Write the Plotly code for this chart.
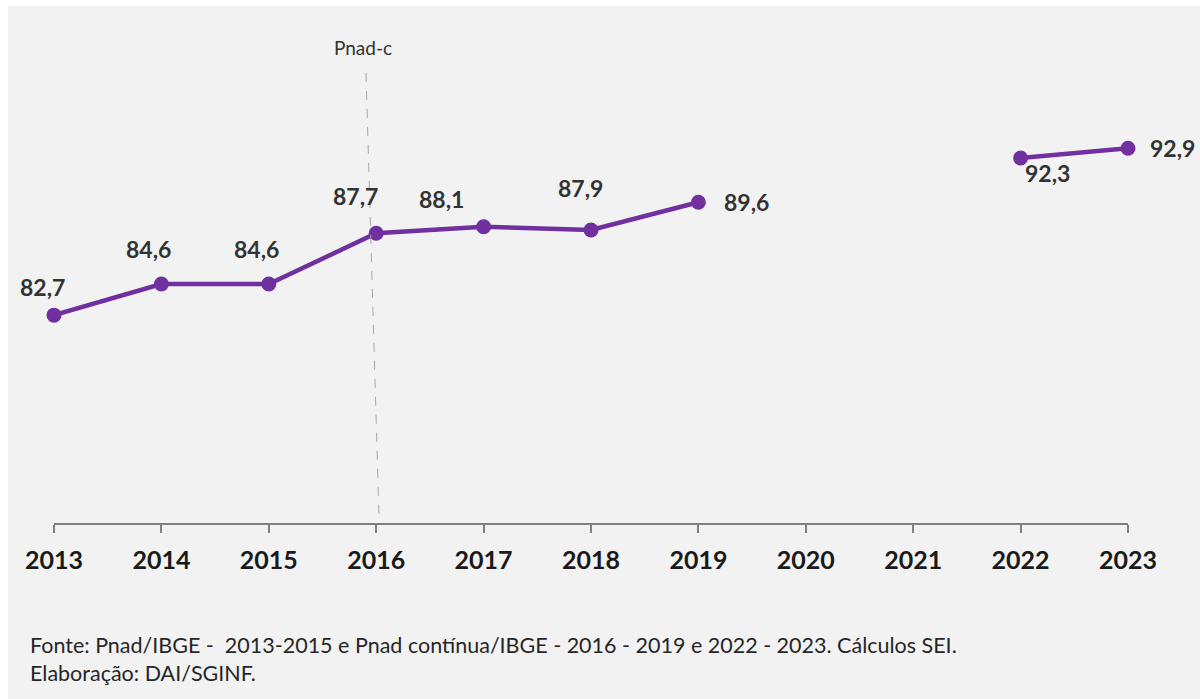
import plotly.graph_objects as go

# Série anual (2020 e 2021 sem dados)
anos = [2013, 2014, 2015, 2016, 2017, 2018, 2019, 2020, 2021, 2022, 2023]
valores = [82.7, 84.6, 84.6, 87.7, 88.1, 87.9, 89.6, None, None, 92.3, 92.9]
rotulos_eixo = [str(a) for a in anos]

fonte = "Fonte: Pnad/IBGE -  2013-2015 e Pnad contínua/IBGE - 2016 - 2019 e 2022 - 2023. Cálculos SEI."
elaboracao = "Elaboração: DAI/SGINF."

# deslocamento (px) de cada rótulo de valor em relação ao ponto
desloc = [(-12, 28), (-13, 35), (-12, 35), (-21, 37), (-42, 28), (-11, 42),
          (48, 0), None, None, (27, -15), (44, 0)]

ROXO = "#7030a0"
FONTE = "Lato"

# geometria da área de plotagem (px)
W, H = 1200, 699
ML, MR, MT, MB = 54, 72, 32, 176
PW, PH = W - ML - MR, H - MT - MB


def px_x(p):
    return (p - ML) / PW


def px_y(p):
    return (H - MB - p) / PH


fig = go.Figure()

fig.add_trace(go.Scatter(
    x=anos, y=valores, mode="lines+markers",
    line=dict(color=ROXO, width=4.5),
    marker=dict(color=ROXO, size=15),
    connectgaps=False, cliponaxis=False, hoverinfo="skip", showlegend=False,
))

anotacoes = []
for a, v, d in zip(anos, valores, desloc):
    if v is None:
        continue
    anotacoes.append(dict(
        x=a, y=v, xref="x", yref="y", text=f"{v:.1f}".replace(".", ","),
        showarrow=False, xshift=d[0], yshift=d[1],
        xanchor="center", yanchor="middle",
        font=dict(family=FONTE, size=23, color="#333333", weight="bold"),
    ))

anotacoes.append(dict(
    x=px_x(363), y=px_y(47), xref="paper", yref="paper", text="Pnad-c",
    xanchor="center", yanchor="middle", showarrow=False,
    font=dict(family=FONTE, size=19, color="#333333"),
))
anotacoes.append(dict(
    x=px_x(28), y=px_y(645), xref="paper", yref="paper", text=fonte,
    xanchor="left", yanchor="middle", showarrow=False,
    font=dict(family=FONTE, size=21.5, color="#262626"),
))
anotacoes.append(dict(
    x=px_x(28), y=px_y(673), xref="paper", yref="paper", text=elaboracao,
    xanchor="left", yanchor="middle", showarrow=False,
    font=dict(family=FONTE, size=21.5, color="#262626"),
))

formas = [
    # fundo cinza do painel
    dict(type="rect", xref="paper", yref="paper", layer="below",
         x0=px_x(8), x1=px_x(1200), y0=px_y(699), y1=px_y(6),
         fillcolor="#f2f2f2", line=dict(width=0)),
    # marca de mudança de pesquisa (Pnad contínua)
    dict(type="line", xref="x", yref="y",
         x0=2015.905, y0=97.5, x1=2016.026, y1=70.4,
         line=dict(color="#a6a6a6", width=1, dash="dash")),
]

fig.update_layout(
    width=W, height=H,
    margin=dict(l=ML, r=MR, t=MT, b=MB),
    paper_bgcolor="white", plot_bgcolor="rgba(0,0,0,0)",
    shapes=formas, annotations=anotacoes,
    xaxis=dict(
        range=[2013, 2023], tickmode="array", tickvals=anos, ticktext=rotulos_eixo,
        showline=True, linecolor="#808080", linewidth=2,
        ticks="outside", ticklen=8, tickwidth=2, tickcolor="#808080",
        ticklabelstandoff=6,
        showgrid=False, zeroline=False,
        tickfont=dict(family=FONTE, size=25, color="#1a1a1a", weight="bold"),
    ),
    yaxis=dict(range=[70, 100], visible=False, showgrid=False, zeroline=False),
)

fig.write_html("out.html")
